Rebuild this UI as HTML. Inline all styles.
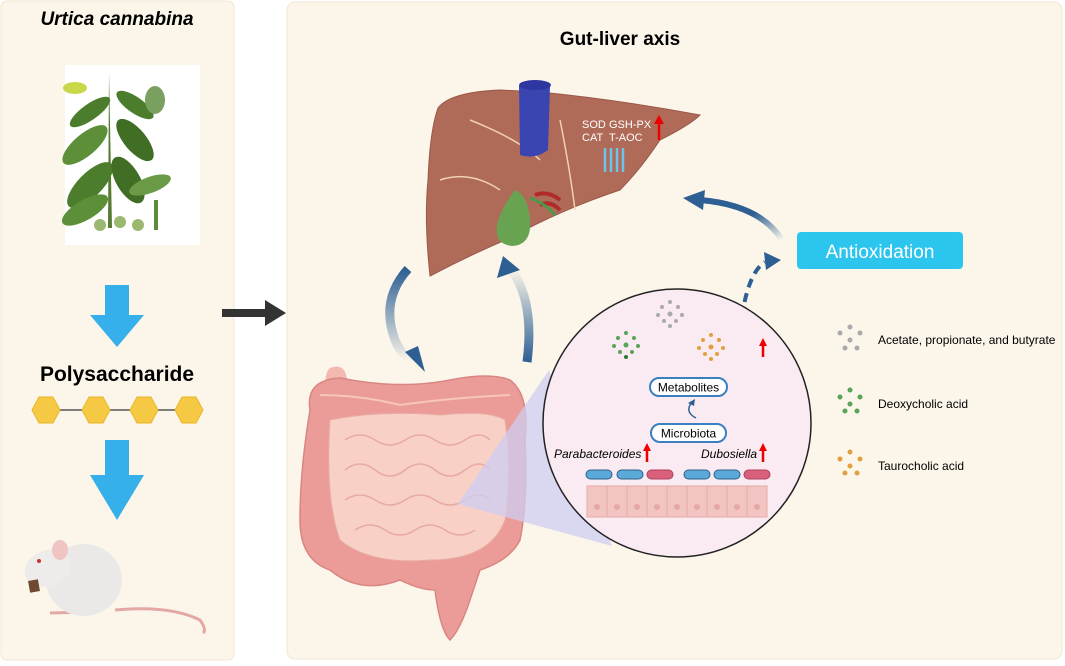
<!DOCTYPE html>
<html><head><meta charset="utf-8"><style>
body{margin:0;width:1065px;height:661px;background:#fff;font-family:"Liberation Sans",sans-serif;overflow:hidden}
</style></head><body>
<svg width="1065" height="661" viewBox="0 0 1065 661" xmlns="http://www.w3.org/2000/svg" font-family="Liberation Sans, sans-serif">
<defs>
<linearGradient id="ga" x1="0" y1="0" x2="0" y2="1"><stop offset="0" stop-color="#2d5f93" stop-opacity="0"/><stop offset="1" stop-color="#2d5f93"/></linearGradient>
<linearGradient id="gb" x1="0" y1="1" x2="0" y2="0"><stop offset="0" stop-color="#2d5f93" stop-opacity="0"/><stop offset="1" stop-color="#2d5f93"/></linearGradient>
<linearGradient id="gc" x1="1" y1="1" x2="0" y2="0"><stop offset="0" stop-color="#2d5f93" stop-opacity="0"/><stop offset=".5" stop-color="#2d5f93"/></linearGradient>
</defs>
<rect x="1" y="1" width="233" height="659" rx="6" fill="#fcf6ea" stroke="#f3e6d0"/>
<rect x="287" y="2" width="775" height="657" rx="8" fill="#fcf6ea" stroke="#f3e6d0"/>
<text x="117" y="25" text-anchor="middle" font-size="19" font-weight="bold" font-style="italic">Urtica cannabina</text>
<rect x="65" y="65" width="135" height="180" fill="#fff"/>
<g fill="#4c7d2c">
<path d="M109 72 L112 228 L108 228 Z" fill="#557a30"/>
<ellipse cx="90" cy="112" rx="24" ry="8" transform="rotate(-35 90 112)"/>
<ellipse cx="135" cy="105" rx="22" ry="8" transform="rotate(35 135 105)"/>
<ellipse cx="85" cy="145" rx="28" ry="11" transform="rotate(-40 85 145)" fill="#5d8f38"/>
<ellipse cx="135" cy="140" rx="26" ry="11" transform="rotate(50 135 140)" fill="#3f6e24"/>
<ellipse cx="90" cy="185" rx="30" ry="12" transform="rotate(-45 90 185)"/>
<ellipse cx="128" cy="180" rx="26" ry="12" transform="rotate(60 128 180)" fill="#3f6e24"/>
<ellipse cx="85" cy="210" rx="26" ry="10" transform="rotate(-30 85 210)" fill="#5d8f38"/>
<ellipse cx="150" cy="185" rx="22" ry="8" transform="rotate(-20 150 185)" fill="#6a9a45"/>
<ellipse cx="75" cy="88" rx="12" ry="6" fill="#c8d84a"/>
<ellipse cx="155" cy="100" rx="10" ry="14" fill="#7aa060"/>
<circle cx="100" cy="225" r="6" fill="#9bb870"/><circle cx="120" cy="222" r="6" fill="#9bb870"/><circle cx="138" cy="225" r="6" fill="#9bb870"/>
<rect x="154" y="200" width="4" height="30" fill="#5a8a3a"/>
</g>
<path d="M105 285 h24 v30 h15 l-27 32 l-27 -32 h15 Z" fill="#35b0ea"/>
<text x="117" y="381" text-anchor="middle" font-size="21" font-weight="bold">Polysaccharide</text>
<line x1="45" y1="410" x2="190" y2="410" stroke="#555" stroke-width="1.5"/>
<g fill="#f6c945" stroke="#e8b526">
<polygon points="32,410 39,397 53,397 60,410 53,423 39,423"/>
<polygon points="82,410 89,397 103,397 110,410 103,423 89,423"/>
<polygon points="130,410 137,397 151,397 158,410 151,423 137,423"/>
<polygon points="175,410 182,397 196,397 203,410 196,423 182,423"/>
</g>
<path d="M105 440 h24 v35 h15 l-27 45 l-27 -45 h15 Z" fill="#35b0ea"/>
<path d="M115 610 Q170 605 200 620 Q207 630 203 633" stroke="#e3a8a4" stroke-width="3" fill="none"/>
<path d="M50 613 L90 612" stroke="#e3a8a4" stroke-width="3"/>
<ellipse cx="84" cy="580" rx="38" ry="36" fill="#ebe9e7"/>
<ellipse cx="48" cy="568" rx="24" ry="18" fill="#eeeceb" transform="rotate(-20 48 568)"/>
<ellipse cx="60" cy="550" rx="8" ry="10" fill="#f0c4c2"/>
<circle cx="39" cy="561" r="2" fill="#c33"/>
<rect x="29" y="580" width="10" height="12" fill="#6e4a32" transform="rotate(-10 34 586)"/>
<path d="M222 313 H268" stroke="#333" stroke-width="8"/><path d="M265 300 L286 313 L265 326 Z" fill="#333"/>
<text x="620" y="45" text-anchor="middle" font-size="19" font-weight="bold">Gut-liver axis</text>
<path d="M438 108 Q450 92 500 90 L540 92 Q620 100 700 115 Q690 125 660 140 Q640 170 620 190 Q560 210 510 238 Q470 255 430 276 Q424 220 428 180 Q430 130 438 108 Z" fill="#b06a58" stroke="#9a5848"/>
<path d="M440 180 Q470 170 500 190 M470 120 Q520 140 540 160 M560 120 Q570 170 575 210" stroke="#eed2b0" stroke-width="1.5" fill="none"/>
<path d="M519 86 L550 86 L548 150 Q535 160 520 155 Z" fill="#3a45b2"/>
<ellipse cx="535" cy="85" rx="16" ry="5" fill="#2e36a0"/>
<path d="M535 195 Q548 190 560 200 M540 205 Q550 200 560 210" stroke="#b02a2a" stroke-width="4" fill="none"/>
<path d="M530 198 Q545 203 555 215" stroke="#4a9a4a" stroke-width="3" fill="none"/>
<path d="M515 190 Q528 195 530 220 Q532 245 512 246 Q494 244 497 225 Q500 210 515 190 Z" fill="#68a352"/>
<text x="582" y="128" fill="#fff" font-size="11">SOD</text><text x="609" y="128" fill="#fff" font-size="11">GSH-PX</text>
<text x="582" y="141" fill="#fff" font-size="11">CAT</text><text x="609" y="141" fill="#fff" font-size="11">T-AOC</text>
<path d="M659 140 V122" stroke="#e00" stroke-width="2.5"/><path d="M654 124 L659 115 L664 124Z" fill="#e00"/>
<g stroke="#6cc4e8" stroke-width="2.5" fill="none"><path d="M605 148 V172 M611 148 V172 M617 148 V172 M623 148 V172"/></g>
<path d="M408 269 Q380 300 395 340 Q402 358 418 362" stroke="url(#gb)" stroke-width="9" fill="none"/>
<path d="M405 352 L425 372 L418 346Z" fill="#2d5f93"/>
<path d="M527 362 Q535 300 510 268" stroke="url(#ga)" stroke-width="9" fill="none" transform=""/>
<path d="M497 278 L503 256 L520 270Z" fill="#2d5f93"/>
<path d="M782 240 Q760 205 700 200" stroke="url(#gc)" stroke-width="6" fill="none"/><path d="M705 190 L683 198 L703 210Z" fill="#2d5f93"/>
<path d="M697 326 L725 325 Q742 320 745 300 Q752 270 765 262" stroke="#2d5f93" stroke-width="4" fill="none" stroke-dasharray="9 6"/><path d="M764 252 L781 260 L766 270Z" fill="#2d5f93"/>
<rect x="797" y="232" width="166" height="37" rx="4" fill="#2cc5ee"/>
<text x="880" y="258" text-anchor="middle" font-size="19" fill="#fff">Antioxidation</text>
<!-- intestine -->
<path d="M328 400 Q322 375 330 368 Q345 362 347 380 L340 405" fill="#f3b9ae"/>
<path d="M310 410 Q305 380 340 378 Q400 390 450 380 Q490 372 510 380 Q530 395 525 440 Q528 500 520 540 Q510 560 480 570 L470 600 Q460 630 450 640 Q440 630 435 590 Q420 590 400 580 Q360 595 330 570 Q300 560 300 520 Q300 470 310 410 Z" fill="#ec9c98" stroke="#d98682" stroke-width="1.5"/>
<path d="M330 420 Q380 410 440 415 Q490 410 505 420 Q512 470 505 520 Q490 560 430 560 Q370 565 340 540 Q325 500 330 420 Z" fill="#f8d0c6" stroke="#e7ada4"/>
<g stroke="#e7aaa2" stroke-width="1.5" fill="none">
<path d="M345 440 q15 -10 30 0 t30 0 t30 0 t30 0 t25 0"/>
<path d="M345 470 q15 -12 30 0 t30 0 t30 0 t30 0 t25 0"/>
<path d="M345 500 q15 -10 30 0 t30 0 t30 0 t30 0 t25 0"/>
<path d="M355 530 q15 -10 30 0 t30 0 t30 0 t30 0"/>
</g>
<path d="M320 395 Q360 395 400 405 Q450 398 510 395" stroke="#f6c6bc" stroke-width="2" fill="none"/>
<polygon points="458,504 549,370 612,546" fill="#cfcdf2" opacity=".75"/>
<circle cx="677" cy="423" r="134" fill="#f9ebf1" stroke="#222" stroke-width="1.5"/>
<g fill="#5aa35a"><circle cx="626" cy="345" r="2.5"/><circle cx="618" cy="338" r="2"/><circle cx="634" cy="338" r="2"/><circle cx="620" cy="352" r="2"/><circle cx="632" cy="352" r="2"/><circle cx="626" cy="333" r="2"/><circle cx="614" cy="346" r="2"/><circle cx="638" cy="346" r="2"/><circle cx="626" cy="357" r="2" fill="#2c7a2c"/></g>
<g fill="#aaa"><circle cx="670" cy="314" r="2.5"/><circle cx="662" cy="307" r="2"/><circle cx="678" cy="307" r="2"/><circle cx="664" cy="321" r="2"/><circle cx="676" cy="321" r="2"/><circle cx="670" cy="302" r="2"/><circle cx="658" cy="315" r="2"/><circle cx="682" cy="315" r="2"/><circle cx="670" cy="326" r="2"/></g>
<g fill="#e0a040"><circle cx="711" cy="347" r="2.5"/><circle cx="703" cy="340" r="2"/><circle cx="719" cy="340" r="2"/><circle cx="705" cy="354" r="2"/><circle cx="717" cy="354" r="2"/><circle cx="711" cy="335" r="2"/><circle cx="699" cy="348" r="2"/><circle cx="723" cy="348" r="2"/><circle cx="711" cy="359" r="2"/></g>
<path d="M763 357 V344" stroke="#e00" stroke-width="2.5"/><path d="M759 346 L763 338 L767 346Z" fill="#e00"/>
<rect x="650" y="378" width="77" height="18" rx="9" fill="#fff" stroke="#3a7fc0" stroke-width="2"/>
<text x="688.5" y="391.5" text-anchor="middle" font-size="12">Metabolites</text>
<path d="M696 418 Q684 412 692 402" stroke="#2d5f93" stroke-width="1.5" fill="none"/><path d="M688 403 L695 399 L694 406Z" fill="#2d5f93"/>
<rect x="651" y="424" width="75" height="18" rx="9" fill="#fff" stroke="#3a7fc0" stroke-width="2"/>
<text x="688.5" y="437.5" text-anchor="middle" font-size="12">Microbiota</text>
<text x="554" y="458" font-size="12" font-style="italic">Parabacteroides</text>
<text x="701" y="458" font-size="12" font-style="italic">Dubosiella</text>
<path d="M647 462 V449" stroke="#e00" stroke-width="2.5"/><path d="M643 451 L647 443 L651 451Z" fill="#e00"/>
<path d="M763 462 V449" stroke="#e00" stroke-width="2.5"/><path d="M759 451 L763 443 L767 451Z" fill="#e00"/>
<g stroke="#2e5f8a"><rect x="586" y="470" width="26" height="9" rx="4.5" fill="#5aa9d8"/><rect x="617" y="470" width="26" height="9" rx="4.5" fill="#5aa9d8"/><rect x="647" y="470" width="26" height="9" rx="4.5" fill="#d9607a" stroke="#b04060"/><rect x="684" y="470" width="26" height="9" rx="4.5" fill="#5aa9d8"/><rect x="714" y="470" width="26" height="9" rx="4.5" fill="#5aa9d8"/><rect x="744" y="470" width="26" height="9" rx="4.5" fill="#d9607a" stroke="#b04060"/></g>
<g fill="#f2c4c2" stroke="#e5aaa8"><rect x="587" y="486" width="20" height="31"/><rect x="607" y="486" width="20" height="31"/><rect x="627" y="486" width="20" height="31"/><rect x="647" y="486" width="20" height="31"/><rect x="667" y="486" width="20" height="31"/><rect x="687" y="486" width="20" height="31"/><rect x="707" y="486" width="20" height="31"/><rect x="727" y="486" width="20" height="31"/><rect x="747" y="486" width="20" height="31"/></g>
<g fill="#e6a8a6"><circle cx="597" cy="507" r="3"/><circle cx="617" cy="507" r="3"/><circle cx="637" cy="507" r="3"/><circle cx="657" cy="507" r="3"/><circle cx="677" cy="507" r="3"/><circle cx="697" cy="507" r="3"/><circle cx="717" cy="507" r="3"/><circle cx="737" cy="507" r="3"/><circle cx="757" cy="507" r="3"/></g>
<g fill="#aaa"><circle cx="840" cy="333" r="2.5"/><circle cx="850" cy="340" r="2.5"/><circle cx="860" cy="333" r="2.5"/><circle cx="845" cy="348" r="2.5"/><circle cx="857" cy="348" r="2.5"/><circle cx="850" cy="327" r="2.5"/></g>
<g fill="#5aa35a"><circle cx="840" cy="397" r="2.5"/><circle cx="850" cy="404" r="2.5"/><circle cx="860" cy="397" r="2.5"/><circle cx="845" cy="411" r="2.5"/><circle cx="857" cy="411" r="2.5"/><circle cx="850" cy="390" r="2.5"/></g>
<g fill="#e0a040"><circle cx="840" cy="459" r="2.5"/><circle cx="850" cy="466" r="2.5"/><circle cx="860" cy="459" r="2.5"/><circle cx="845" cy="473" r="2.5"/><circle cx="857" cy="473" r="2.5"/><circle cx="850" cy="452" r="2.5"/></g>
<text x="878" y="344" font-size="12">Acetate, propionate, and butyrate</text>
<text x="878" y="408" font-size="12">Deoxycholic acid</text>
<text x="878" y="470" font-size="12">Taurocholic acid</text>
</svg>
</body></html>
